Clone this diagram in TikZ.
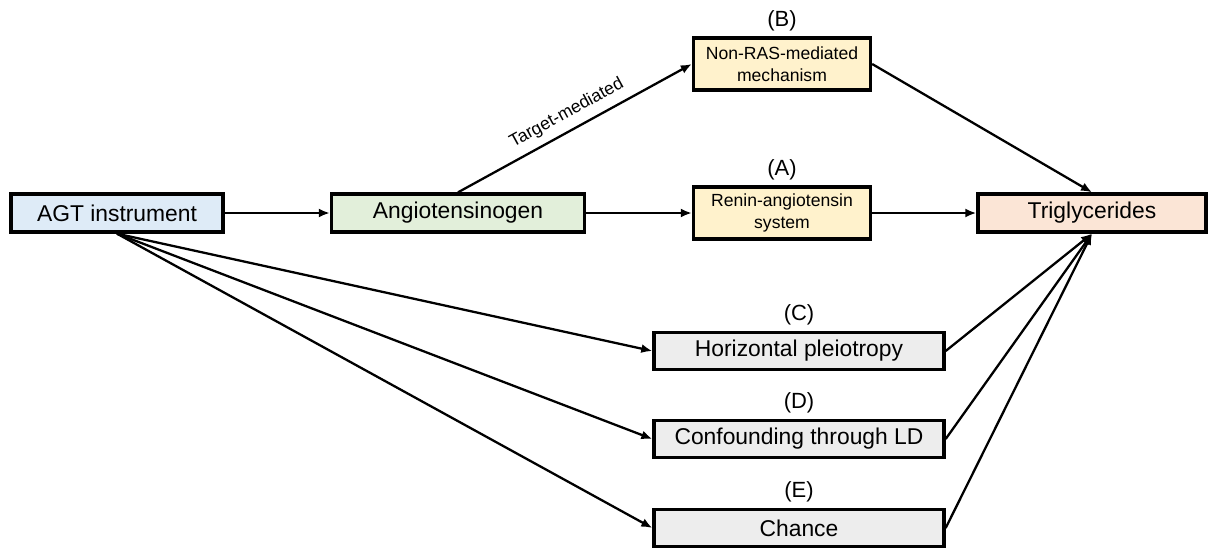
\documentclass[tikz,border=0pt]{standalone}
\usepackage{fontspec}
\setmainfont{Liberation Sans}
\usepackage{xcolor}
\usetikzlibrary{positioning, arrows.meta}

\definecolor{agtblue}{HTML}{DEEBF7}
\definecolor{anggreen}{HTML}{E2EFDA}
\definecolor{rasyellow}{HTML}{FFF2CC}
\definecolor{tgpeach}{HTML}{FBE5D6}
\definecolor{altgray}{HTML}{EDEDED}

\tikzset{
  box/.style={draw=black, line width=1.9pt, inner sep=0pt, align=center},
  widebox/.style={box, minimum height=0.76cm, font=\fontsize{13}{15}\selectfont},
  smallbox/.style={box, minimum width=3.54cm, minimum height=1.04cm, fill=rasyellow, font=\fontsize{10}{12.5}\selectfont},
  altbox/.style={widebox, minimum width=5.8cm, minimum height=0.74cm, fill=altgray},
  tag/.style={font=\fontsize{12.5}{14}\selectfont, inner sep=1pt},
  link/.style={line width=1.3pt, black, -{Latex[length=2.2mm, width=1.8mm]}},
}

\begin{document}
\begin{tikzpicture}
  \useasboundingbox (0,0) rectangle (24.18,-10.96);

  % main chain
  \node[widebox, fill=agtblue, minimum width=4.24cm] (agt) at (2.34,-4.26) {AGT instrument};
  \node[widebox, fill=anggreen, minimum width=5.06cm] (ang) at (9.16,-4.26) {Angiotensinogen};
  \node[smallbox] (ras) at (15.64,-4.26) {Renin-angiotensin\\system};
  \node[smallbox] (nonras) at (15.64,-1.28) {Non-RAS-mediated\\mechanism};
  \node[widebox, fill=tgpeach, minimum width=4.56cm] (tg) at (21.84,-4.26) {Triglycerides};

  % alternative explanations
  \node[altbox] (pleio) at (15.98,-7.02) {Horizontal pleiotropy};
  \node[altbox] (ld) at (15.98,-8.78) {Confounding through LD};
  \node[altbox] (chance) at (15.98,-10.56) {Chance};

  % letters
  \node[tag, above=2pt of ras] (tagA) {(A)};
  \node[tag, above=2pt of nonras] (tagB) {(B)};
  \node[tag, above=2pt of pleio] (tagC) {(C)};
  \node[tag, above=2pt of ld] (tagD) {(D)};
  \node[tag, above=2pt of chance] (tagE) {(E)};

  \draw[link] (agt) -- (ang);
  \draw[link] (ang) -- (ras);
  \draw[link] (ras) -- (tg);
  \draw[link] (ang.north) -- node[pos=0.5, sloped, above=1pt, font=\fontsize{10}{12}\selectfont] {Target-mediated} (nonras.west);
  \draw[link] (nonras.east) -- (tg.north);

  \draw[link] (agt.south) -- (pleio.west);
  \draw[link] (agt.south) -- (ld.west);
  \draw[link] (agt.south) -- (chance.west);

  \draw[link] (pleio.east) -- (tg.south);
  \draw[link] (ld.east) -- (tg.south);
  \draw[link] (chance.east) -- (tg.south);

\end{tikzpicture}
\end{document}
